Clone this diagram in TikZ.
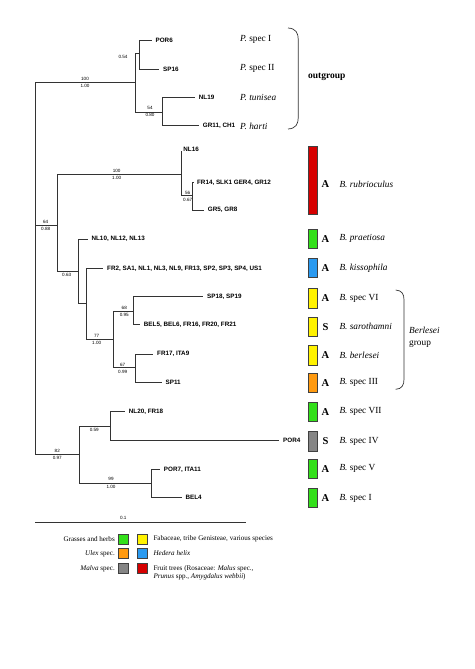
\documentclass[tikz,border=0pt]{standalone}
\usepackage{fontspec}
\setmainfont{Liberation Serif}
\newfontfamily\treefont{Liberation Sans}
\definecolor{hgreen}{HTML}{33E01A}
\definecolor{hyellow}{HTML}{FFF200}
\definecolor{hblue}{HTML}{2A9AF0}
\definecolor{horange}{HTML}{FF9A10}
\definecolor{hgray}{HTML}{858585}
\definecolor{hred}{HTML}{D60000}
\begin{document}
\begin{tikzpicture}[x=1pt,y=-1pt,
  br/.style={draw=black!80, line width=0.8pt},
  leaf/.style={anchor=west, xshift=3.7pt, inner sep=0pt, font=\treefont\bfseries\fontsize{6.3}{7}\selectfont},
  bs/.style={inner sep=0pt, font=\treefont\fontsize{4.6}{5}\selectfont},
  hostbox/.style={draw=black!75, line width=0.6pt, minimum width=9.4pt, minimum height=19.5pt, inner sep=0pt},
  code/.style={font=\bfseries\fontsize{10.5}{12}\selectfont, inner sep=0pt},
  spc/.style={anchor=west, inner sep=0pt, font=\fontsize{9.3}{11}\selectfont},
  legbox/.style={draw=black!75, line width=0.7pt, minimum size=10pt, inner sep=0pt},
  legtxt/.style={inner sep=0pt, font=\fontsize{7.1}{8.5}\selectfont},
  brace/.style={draw=black!80, line width=0.7pt}
]
\useasboundingbox (0,0) rectangle (474,669);
% internal nodes
\coordinate (root) at (35,225);
\coordinate (og) at (135,82.7);
\coordinate (pS) at (139.3,53.3);
\coordinate (pT) at (162.3,112.3);
\coordinate (n64) at (57.7,225);
\coordinate (nRub) at (181.7,174.3);
\coordinate (n56) at (192.7,195.7);
\coordinate (n63) at (78.3,271.7);
\coordinate (nA) at (86,303.3);
\coordinate (n77) at (113.3,339.3);
\coordinate (n68) at (133.3,311);
\coordinate (n67) at (135,367.7);
\coordinate (n82) at (79.3,454.3);
\coordinate (n59) at (110,426);
\coordinate (n99) at (151.7,483.3);
% leaves
\coordinate (POR6) at (151.7,40);
\coordinate (SP16) at (159.3,69.3);
\coordinate (NL19) at (195,97.7);
\coordinate (GR11) at (199,125.7);
\coordinate (NL16) at (181.7,150.7);
\coordinate (FR14) at (193.2,182.3);
\coordinate (GR5) at (204,210);
\coordinate (NL10) at (87.7,239);
\coordinate (FR2) at (103.3,268.3);
\coordinate (SP18) at (203.3,296.7);
\coordinate (BEL5) at (140,324.3);
\coordinate (FR17) at (153.3,354);
\coordinate (SP11) at (161.7,382.3);
\coordinate (NL20) at (125,411.7);
\coordinate (POR4) at (279.3,440);
\coordinate (POR7) at (160,469.3);
\coordinate (BEL4) at (181.7,497.3);
% branches
\draw[br] (root) |- (og);
\draw[br] (root) |- (n64);
\draw[br] (root) |- (n82);
\draw[br] (og) |- (pS);
\draw[br] (og) |- (pT);
\draw[br] (pS) |- (POR6);
\draw[br] (pS) |- (SP16);
\draw[br] (pT) |- (NL19);
\draw[br] (pT) |- (GR11);
\draw[br] (n64) |- (nRub);
\draw[br] (n64) |- (n63);
\draw[br] (nRub) |- (NL16);
\draw[br] (nRub) |- (n56);
\draw[br] (n56) |- (FR14);
\draw[br] (n56) |- (GR5);
\draw[br] (n63) |- (NL10);
\draw[br] (n63) |- (nA);
\draw[br] (nA) |- (FR2);
\draw[br] (nA) |- (n77);
\draw[br] (n77) |- (n68);
\draw[br] (n77) |- (n67);
\draw[br] (n68) |- (SP18);
\draw[br] (n68) |- (BEL5);
\draw[br] (n67) |- (FR17);
\draw[br] (n67) |- (SP11);
\draw[br] (n82) |- (n59);
\draw[br] (n82) |- (n99);
\draw[br] (n59) |- (NL20);
\draw[br] (n59) |- (POR4);
\draw[br] (n99) |- (POR7);
\draw[br] (n99) |- (BEL4);
% leaf labels
\node[leaf] (lPOR6) at (POR6) {POR6};
\node[leaf] (lSP16) at (SP16) {SP16};
\node[leaf] (lNL19) at (NL19) {NL19};
\node[leaf] (lGR11) at (GR11) {GR11, CH1};
\node[leaf, xshift=-2.2pt] (lNL16) at ([yshift=1.5pt]NL16) {NL16};
\node[leaf] (lFR14) at (FR14) {FR14, SLK1 GER4, GR12};
\node[leaf] (lGR5) at (GR5) {GR5, GR8};
\node[leaf] (lNL10) at (NL10) {NL10, NL12, NL13};
\node[leaf] (lFR2) at (FR2) {FR2, SA1, NL1, NL3, NL9, FR13, SP2, SP3, SP4, US1};
\node[leaf] (lSP18) at (SP18) {SP18, SP19};
\node[leaf] (lBEL5) at (BEL5) {BEL5, BEL6, FR16, FR20, FR21};
\node[leaf] (lFR17) at (FR17) {FR17, ITA9};
\node[leaf] (lSP11) at (SP11) {SP11};
\node[leaf] (lNL20) at (NL20) {NL20, FR18};
\node[leaf] (lPOR4) at (POR4) {POR4};
\node[leaf] (lPOR7) at (POR7) {POR7, ITA11};
\node[leaf] (lBEL4) at (BEL4) {BEL4};
% support values
\node[bs] (s1a) at (85,79.3) {100};
\node[bs] (s1b) at (85,86.3) {1.00};
\node[bs] (s2) at (123,56.7) {0.54};
\node[bs] (s3a) at (150,108.3) {54};
\node[bs] (s3b) at (150,115.3) {0.80};
\node[bs] (s4a) at (116.7,171.3) {100};
\node[bs] (s4b) at (116.7,178.3) {1.00};
\node[bs] (s5a) at (187.7,192.7) {56};
\node[bs] (s5b) at (187.7,199.7) {0.67};
\node[bs] (s6a) at (45.7,222) {64};
\node[bs] (s6b) at (45.7,229) {0.88};
\node[bs] (s7) at (66.7,274.5) {0.63};
\node[bs] (s8a) at (96.7,335.7) {77};
\node[bs] (s8b) at (96.7,342.7) {1.00};
\node[bs] (s9a) at (124.3,307.7) {68};
\node[bs] (s9b) at (124.3,314.7) {0.95};
\node[bs] (s10a) at (122.7,365) {67};
\node[bs] (s10b) at (122.7,372.3) {0.99};
\node[bs] (s11) at (94.3,430) {0.59};
\node[bs] (s12a) at (57.3,451) {82};
\node[bs] (s12b) at (57.3,458) {0.97};
\node[bs] (s13a) at (111,479.3) {99};
\node[bs] (s13b) at (111,486.7) {1.00};
% scale bar
\coordinate (sbL) at (35,522.7);
\coordinate (sbR) at (246,522.7);
\draw[br] (sbL) -- (sbR);
\node[bs] (sbl) at (123.3,517.7) {0.1};
% outgroup
\node[spc] (pI) at (240,39.3) {\textit{P.} spec I};
\node[spc] (pII) at (240,68.3) {\textit{P.} spec II};
\node[spc] (pTu) at (240,97.3) {\textit{P. tunisea}};
\node[spc] (pH) at (240,126) {\textit{P. harti}};
\draw[brace] (288,28) .. controls (296,28.5) and (298.3,33) .. (298.3,40) -- (298.3,117) .. controls (298.3,124) and (296,128.5) .. (288,129);
\node[anchor=west, inner sep=0pt, font=\bfseries\fontsize{9.5}{10}\selectfont] (ogl) at (308,77.3) {outgroup};
% host boxes and species
\node[hostbox, fill=hred, minimum height=68pt] (bRub) at (313,180.2) {};
\node[code] (cRub) at (325.5,184.3) {A};
\node[spc] (tRub) at (339.3,184.3) {\textit{B. rubrioculus}};
\foreach \nm/\yy/\col/\cd/\sp in {
  Pra/238.8/hgreen/A/{\textit{B. praetiosa}},
  Kis/267.8/hblue/A/{\textit{B. kissophila}},
  VI/298.3/hyellow/A/{\textit{B.} spec VI},
  Sar/326.7/hyellow/S/{\textit{B. sarothamni}},
  Ber/355.3/hyellow/A/{\textit{B. berlesei}},
  III/382.7/horange/A/{\textit{B.} spec III},
  VII/411.7/hgreen/A/{\textit{B.} spec VII},
  IV/441.3/hgray/S/{\textit{B.} spec IV},
  V/468.7/hgreen/A/{\textit{B.} spec V},
  I/498/hgreen/A/{\textit{B.} spec I}}{
  \node[hostbox, fill=\col] (b\nm) at (313,\yy) {};
  \node[code] (c\nm) at (325.5,\yy) {\cd};
  \node[spc] (t\nm) at (339.3,\yy) {\sp};
}
\draw[brace] (395.7,290) .. controls (402,290.5) and (404,294) .. (404,300) -- (404,379) .. controls (404,385) and (402,389) .. (395.7,389.3);
\node[anchor=west, inner sep=0pt, align=left, font=\fontsize{9.3}{12.3}\selectfont] (bgrp) at (409,337) {\textit{Berlesei}\\group};
% legend
\node[legtxt, anchor=east] (lg1) at (115,539) {Grasses and herbs};
\node[legbox, fill=hgreen] (lb1) at (123.3,539) {};
\node[legbox, fill=hyellow] (lb2) at (142.3,539) {};
\node[legtxt, anchor=west] (lg2) at (153.3,539) {Fabaceae, tribe Genisteae, various species};
\node[legtxt, anchor=east] (lg3) at (115,553.3) {\textit{Ulex} spec.};
\node[legbox, fill=horange] (lb3) at (123.3,553.3) {};
\node[legbox, fill=hblue] (lb4) at (142.3,553.3) {};
\node[legtxt, anchor=west] (lg4) at (153.3,553.3) {\textit{Hedera helix}};
\node[legtxt, anchor=east] (lg5) at (115,568.3) {\textit{Malva} spec.};
\node[legbox, fill=hgray] (lb5) at (123.3,568.3) {};
\node[legbox, fill=hred] (lb6) at (142.3,568.3) {};
\node[legtxt, anchor=west] (lg6) at (153.3,568.3) {Fruit trees (Rosaceae: \textit{Malus} spec.,};
\node[legtxt, anchor=west] (lg7) at (153.3,576.7) {\textit{Prunus} spp., \textit{Amygdalus webbii})};
\end{tikzpicture}
\end{document}
